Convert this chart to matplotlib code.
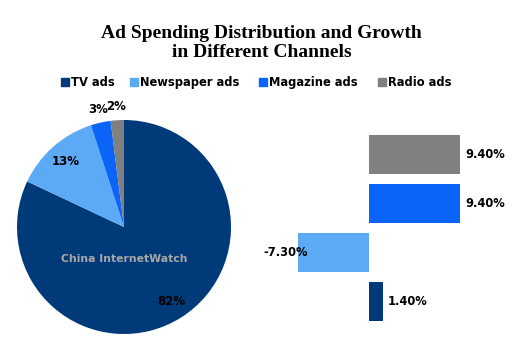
import numpy as np
import matplotlib
matplotlib.use("Agg")
import matplotlib.pyplot as plt
from matplotlib.patches import Rectangle

# data
channels = ['TV ads', 'Newspaper ads', 'Magazine ads', 'Radio ads']
share = [82, 13, 3, 2]            # % of ad spending
growth = [1.4, -7.3, 9.4, 9.4]    # growth, %
colors = ['#003A78', '#5CA9F6', '#0A64F8', '#808080']

W, H = 523, 355
fig = plt.figure(figsize=(W / 100, H / 100), dpi=100)

def px_axes(x0, y0, x1, y1):
    # axes from pixel box (top-left origin)
    return fig.add_axes([x0 / W, 1 - y1 / H, (x1 - x0) / W, (y1 - y0) / H])

fig.text(0.5, 1 - 43 / H, 'Ad Spending Distribution and Growth\nin Different Channels',
         ha='center', va='center', fontsize=14, fontweight='bold',
         family='Liberation Serif', linespacing=1.2)

# legend drawn by hand so the labels share one baseline
leg_x = [61, 130, 259, 378]
for x, c, name in zip(leg_x, colors, channels):
    fig.patches.append(Rectangle((x / W, 1 - 86 / H), 8 / W, 8 / H, color=c,
                                 transform=fig.transFigure, figure=fig))
    fig.text((x + 10) / W, 1 - 86 / H, name, ha='left', va='baseline',
             fontsize=8.3, fontweight='bold')

# pie
ax = px_axes(17, 120, 231, 334)
wedges, texts, autotexts = ax.pie(share, colors=colors, startangle=90, counterclock=False,
                                  autopct='%d%%', pctdistance=0.82,
                                  textprops={'fontsize': 8.5, 'fontweight': 'bold',
                                             'color': 'black'})
for w, t, v in zip(wedges, autotexts, share):
    if v < 5:
        ang = np.deg2rad((w.theta1 + w.theta2) / 2)
        t.set_position((1.12 * np.cos(ang), 1.13 * np.sin(ang)))
ax.set_xlim(-1, 1)
ax.set_ylim(-1, 1)
ax.text(0, -0.3, 'China InternetWatch', ha='center', va='center', color='#A8A8A8',
        fontsize=7.8, fontweight='bold', family='DejaVu Sans')

# growth bars
bx = px_axes(280, 125, 523, 330)
y = np.arange(len(growth))
bars = bx.barh(y, growth, height=0.78, color=colors)
bx.set_xlim(-9.19, 15.9)
bx.set_ylim(-0.58, 3.6)
bx.axis('off')
for yi, v in zip(y, growth):
    if v >= 0:
        bx.text(v + 0.5, yi, f'{v:.2f}%', ha='left', va='center',
                fontsize=8.3, fontweight='bold')
    else:
        bx.text(v + 0.95, yi, f'{v:.2f}%', ha='right', va='center',
                fontsize=8.3, fontweight='bold')

fig.savefig('out.png', dpi=100)
